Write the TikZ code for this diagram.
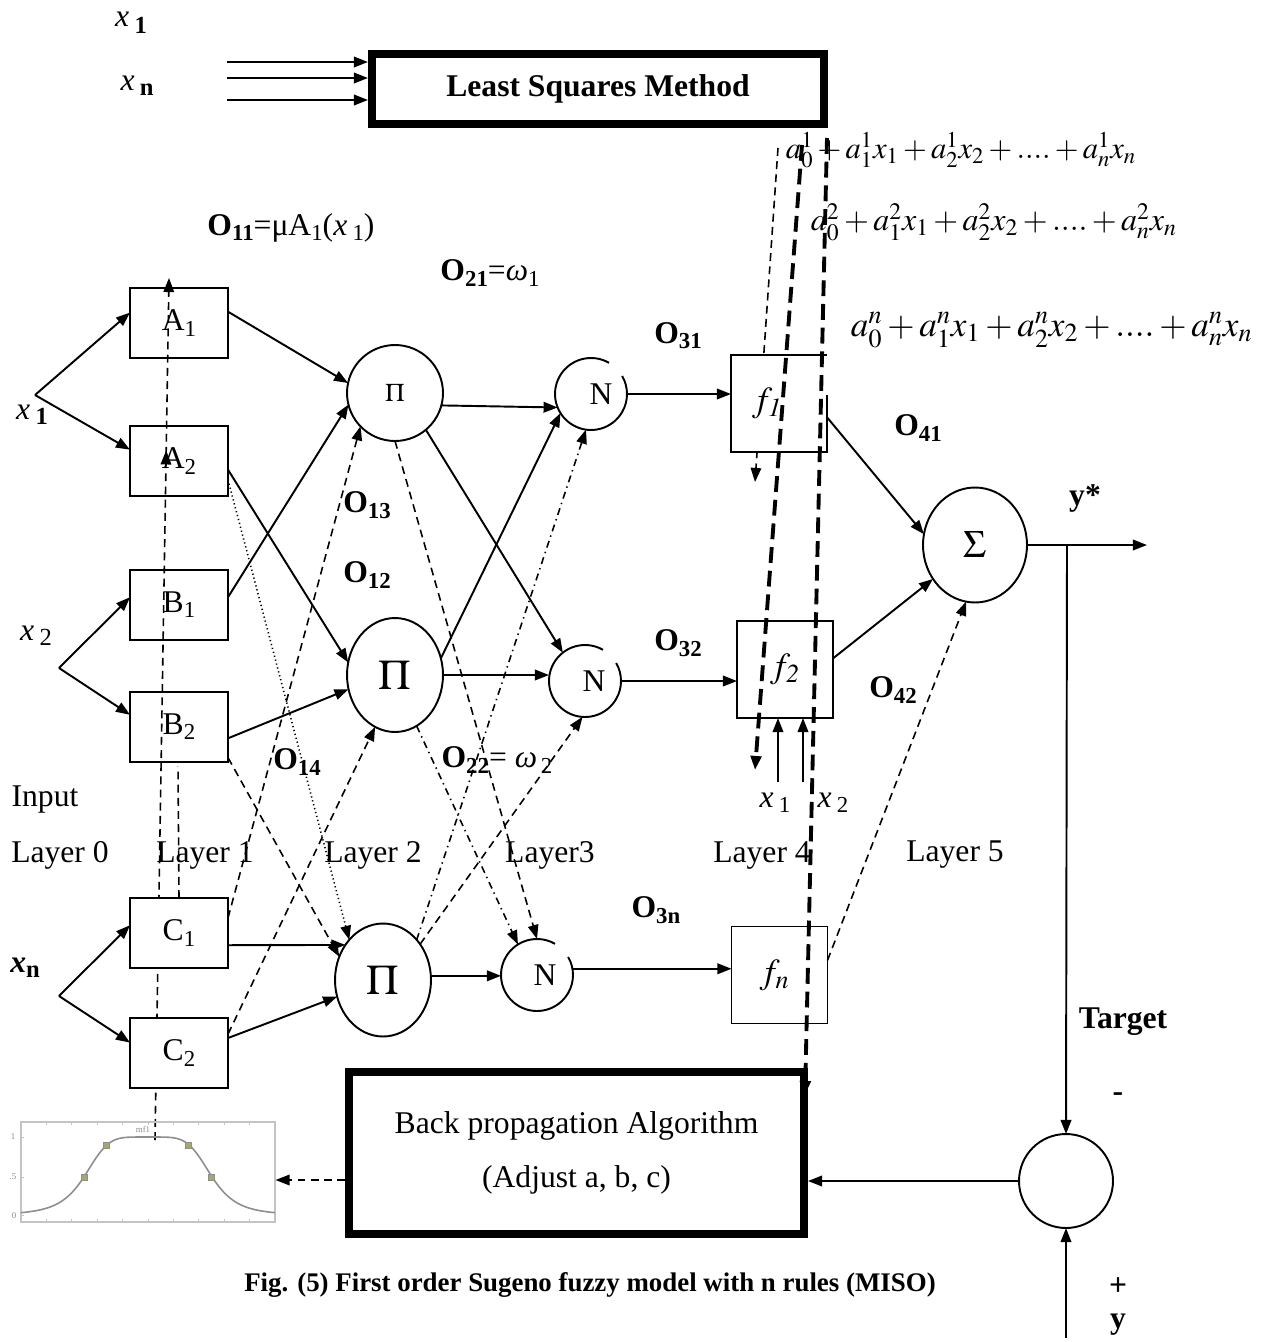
\documentclass[tikz,border=0pt]{standalone}
\usepackage{mathptmx}
\usepackage{fontspec}
\setmainfont{Liberation Serif}
\usetikzlibrary{arrows.meta, shapes.geometric, decorations.markings, backgrounds}
\definecolor{MfFrame}{HTML}{C4C4C4}
\definecolor{MfCurve}{HTML}{8E8E8E}
\definecolor{MfMark}{HTML}{A8A66A}
\definecolor{MfText}{HTML}{8A8A8A}
\newcommand{\olab}[1]{\textbf{O}\raisebox{-3pt}{\fontsize{13}{15}\selectfont\textbf{#1}}}
\newcommand{\subsc}[1]{\raisebox{-3pt}{\fontsize{13}{15}\selectfont #1}}
\tikzset{
  mfbox/.style={rectangle, draw, minimum width=1.96cm, minimum height=1.4cm, inner sep=0pt, outer sep=0pt},
  rulebox/.style={rectangle, draw, fill=white, minimum width=1.92cm, minimum height=1.94cm, inner sep=0pt, outer sep=0pt, font=\fontsize{20}{22}\selectfont},
  prodnode/.style={ellipse, draw, minimum width=1.92cm, inner sep=0pt, outer sep=0pt},
  normnode/.style={circle, minimum size=1.44cm, inner sep=0pt, outer sep=0pt},
  algobox/.style={rectangle, draw, line width=4.6pt, inner sep=0pt, align=center},
  thindash/.style={dash pattern=on 4.5pt off 3pt, line width=0.9pt},
  thickdash/.style={dash pattern=on 9pt off 4.5pt, line width=2.2pt},
  dashdot/.style={dash pattern=on 4pt off 2.5pt on 0.8pt off 2.5pt, line width=0.9pt},
  dotline/.style={dash pattern=on 0.7pt off 1.6pt, line width=0.9pt},
  midtip/.style={postaction={decorate}, decoration={markings, mark=at position #1 with {\arrow{Triangle[length=8pt,width=6pt]}}}}
}

\begin{document}
\begin{tikzpicture}[x=0.02cm, y=-0.02cm, line width=1.1pt, >={Triangle[length=8pt,width=6pt]},
  font=\fontsize{18}{21}\selectfont]
\useasboundingbox (0,0) rectangle (1273,1342);

% least squares block
\node[algobox, minimum width=9.04cm, minimum height=1.4cm, font=\fontsize{18}{21}\selectfont\bfseries] (LSM) at (598,89) {Least Squares Method};
\node (lsx1) at (131,23) {\textit{x}\,\raisebox{-4pt}{\fontsize{14}{16}\selectfont\textbf{1}}};
\node (lsxn) at (137,86) {\textit{x}\,\raisebox{-3pt}{\fontsize{14}{16}\selectfont\textbf{n}}};
\coordinate (in1) at (227,62);
\coordinate (in2) at (227,78);
\coordinate (in3) at (227,100);
\foreach \c in {in1,in2,in3}
  \draw[->] (\c) -- (\c -| LSM.west);

\node[anchor=west, inner sep=0pt, font=\fontsize{17.4}{20}\selectfont] (eq1) at (785,150)
  {$a_0^1 + a_1^1x_1 + a_2^1x_2 + .... + a_n^1x_n$};
\node[anchor=west, inner sep=0pt, font=\fontsize{18.2}{21}\selectfont] (eq2) at (810,222)
  {$a_0^2 + a_1^2x_1 + a_2^2x_2 + .... + a_n^2x_n$};
\node[anchor=west, inner sep=0pt, font=\fontsize{20}{23}\selectfont] (eq3) at (850,330)
  {$a_0^n + a_1^nx_1 + a_2^nx_2 + .... + a_n^nx_n$};

% layer 1
\node[mfbox] (A1) at (179,323) {A\subsc{1}};
\node[mfbox] (A2) at (179,461) {A\subsc{2}};
\node[mfbox] (B1) at (179,605) {B\subsc{1}};
\node[mfbox] (B2) at (179,727) {B\subsc{2}};
\node[mfbox, fill=white] (C1) at (179,933) {C\subsc{1}};
\node[mfbox, fill=white] (C2) at (179,1053) {C\subsc{2}};

\begin{scope}[on background layer]
\coordinate (mfTop) at (155,1140);
\coordinate (mfUp) at (169,278);
\draw[thindash, ->, midtip=0.8] (mfTop) -- (mfUp);
\draw[thindash] (C1.north) -- ++(-1,-132);
\coordinate (ls1) at (778,148);
\coordinate (ls1e) at (755,482);
\draw[thindash, ->] (ls1) -- (ls1e);
\end{scope}

% inputs
\node (lx1) at (32,415) {\textit{x}\,\raisebox{-3pt}{\fontsize{14}{16}\selectfont\textbf{1}}};
\node (lx2) at (36,636) {\textit{x}\,\raisebox{-3pt}{\fontsize{14}{16}\selectfont 2}};
\node (lxn) at (25,968) {\textbf{\textit{x}}\raisebox{-3pt}{\fontsize{14}{16}\selectfont\textbf{n}}};
\coordinate (x1b) at (35,395);
\coordinate (x2b) at (59,668);
\coordinate (xnb) at (59,996);
\draw[->] (x1b) -- (A1.168);
\draw[->] (x1b) -- (A2.167);
\draw[->] (x2b) -- (B1.171);
\draw[->] (x2b) -- (B2.166);
\draw[->] (xnb) -- (C1.171);
\draw[->] (xnb) -- (C2.168);

% layer 2
\node[prodnode, minimum height=1.92cm] (Pi1) at (395,393) {\fontsize{14.5}{16}\selectfont$\Pi$};
\node[prodnode, minimum height=2.28cm] (Pi2) at (395,675) {\fontsize{24}{26}\selectfont$\Pi$};
\node[prodnode, minimum height=2.26cm] (Pi3) at (383,980) {\fontsize{24}{26}\selectfont$\Pi$};

\draw[->] (A1.13) -- (Pi1.168);
\draw[->] (B1.9) -- (Pi1.194);
\draw[->] (A2.-10) -- (Pi2.165);
\draw[->] (B2.-13) -- (Pi2.197);
\draw[->] (C1.-14) -- (Pi3.137);
\draw[->] (C2.17) -- (Pi3.200);
\draw[thindash, ->] (C1.17) -- (Pi1.224);
\draw[thindash, ->] (C2.21) -- (Pi2.249);
\draw[dotline, ->] (A2.-21) -- (Pi3.130);
\draw[thindash, ->] (B2.-32) -- (Pi3.152);

% layer 3
\node[normnode] (N1) at (591,394) {\hspace*{0.4cm}N};
\node[normnode] (N2) at (585,681) {\hspace*{0.36cm}N};
\node[normnode] (N3) at (537,975) {\hspace*{0.32cm}N};
\foreach \n in {N1,N2,N3}
  \draw (\n.60) arc[start angle=60, end angle=390, radius=0.72cm];

\draw[->] (Pi1.345) -- (N1.202);
\draw[->] (Pi1.310) -- (N2.128);
\draw[->] (Pi2.20) -- (N1.212);
\draw[->] (Pi2.east) -- (Pi2.east -| N2.west);
\draw[->] (Pi3.5) -- (Pi3.5 -| N3.west);
\draw[thindash, ->] (Pi1.south) -- (N3.north);
\draw[dashdot, ->] (Pi2.293) -- (N3.122);
\draw[dashdot, ->] (Pi3.50) -- (N1.262);
\draw[thindash, ->] (Pi3.44) -- (N2.266);

% layer 4
\node[rulebox, draw=none] (f1) at (779,403.5) {\hspace*{-0.48cm}$f_{\mathit{1}}$};
\draw ([yshift=-0.8cm]f1.north east) -- (f1.south east) -- (f1.south west) -- (f1.north west) -- (f1.north east);
\node[rulebox] (f2) at (785,669.5) {$f_{\mathit{2}}$};
\node[rulebox] (fn) at (779.5,975) {\hspace*{-0.2cm}$f_{\mathit{n}}$};

\draw[->] (N1.east) -- (N1.east -| f1.west);
\draw[->] (N2.east) -- (N2.east -| f2.west);
\draw[->] (N3.10) -- (N3.10 -| fn.west);

\coordinate (fx1) at (778,782);
\coordinate (fx2) at (803,782);
\draw[->] (fx1) -- (fx1 |- f2.south);
\draw[->] (fx2) -- (fx2 |- f2.south);
\node (lfx1) at (775,803) {\textit{x}\,\subsc{1}};
\node (lfx2) at (833,803) {\textit{x}\,\subsc{2}};

% layer 5 and output
\node[prodnode, minimum width=2.08cm, minimum height=2.3cm] (Sig) at (975,545) {\fontsize{22}{24}\selectfont$\Sigma$};
\draw[->] (f1.-16) -- (Sig.168);
\draw[->] (f2.13) -- (Sig.219);
\draw[thindash, ->] (fn.17) -- (Sig.261);

\coordinate (yout) at (1147,545);
\coordinate (tap) at (1067,545);
\draw[->] (Sig.east) -- (yout);
\node[circle, draw, minimum size=1.88cm, inner sep=0pt, outer sep=0pt] (err) at (1066,1181) {};
\draw[->] (tap) -- (err.north);
\coordinate (ymeas) at (1066,1338);
\draw[->] (ymeas) -- (err.south);

% back propagation block
\node[algobox, minimum width=9.1cm, minimum height=3.24cm] (BP) at (576.5,1153)
  {Back propagation Algorithm\\[10pt](Adjust a, b, c)};
\draw[->] (err.west) -- (err.west -| BP.east);

\coordinate (ls2) at (802,145);
\coordinate (ls2e) at (755,770);
\coordinate (ls3) at (827,138);
\coordinate (bpIn) at (805,1095);
\draw[thickdash, ->] (ls2) -- (ls2e);
\draw[thickdash, ->] (ls3) -- (bpIn);

% membership function plot
\node[draw=MfFrame, line width=0.6pt, minimum width=5.08cm, minimum height=2cm, inner sep=0pt] (mfplot) at (148,1172) {};
\foreach \k in {1,...,9} {
  \draw[MfFrame, line width=0.5pt] (21+\k*25.4,1122) -- ++(0,3);
  \draw[MfFrame, line width=0.5pt] (21+\k*25.4,1222) -- ++(0,-3);
}
\foreach \ty in {1137,1177,1215}
  \draw[MfFrame, line width=0.5pt] (21,\ty) -- ++(3,0);
\node[font=\fontsize{5}{6}\selectfont, text=MfText] (t1) at (13,1137) {1};
\node[font=\fontsize{5}{6}\selectfont, text=MfText] (t5) at (13,1177) {.5};
\node[font=\fontsize{5}{6}\selectfont, text=MfText] (t0) at (14,1216) {0};
\node[font=\fontsize{5}{6}\selectfont, text=MfText] (mft) at (143,1129) {mf1};
\draw[MfCurve, line width=0.9pt, domain=21:275, samples=120, smooth]
  plot (\x, {1215 - 78/(1+pow(abs(\x-148)/63.5,5))});
\foreach \px/\py in {84/1177, 106/1145, 188/1145, 211/1177}
  \filldraw[fill=MfMark, draw=MfCurve, line width=0.4pt] (\px-3,\py-3) rectangle (\px+3,\py+3);
\draw[thindash, ->] (BP.west |- 0,1180) -- (mfplot.east |- 0,1180);

% labels
\node (o11) at (291,228) {\olab{11}=μA\subsc{1}(\textit{x}\,\subsc{1})};
\node (o21) at (490,273) {\olab{21}=\textit{ω}\subsc{1}};
\node (o13) at (367,505) {\olab{13}};
\node (o12) at (367,575) {\olab{12}};
\node (o14) at (297,762) {\olab{14}};
\node (o22) at (497,760) {\olab{22}= \textit{ω}\subsc{\,2}};
\node (o31) at (678,336) {\olab{31}};
\node (o32) at (678,643) {\olab{32}};
\node (o3n) at (656,910) {\olab{3n}};
\node (o41) at (918,428) {\olab{41}};
\node (o42) at (893,690) {\olab{42}};
\node (ystar) at (1085,498) {\textbf{y*}};
\node (target) at (1123,1022) {\textbf{Target}};
\node (minus) at (1118,1097) {\textbf{-}};
\node (plus) at (1118,1287) {\textbf{+}};
\node (ylab) at (1118,1325) {\textbf{y}};

\node (input) at (45,800) {Input};
\foreach \lx/\lt in {60/Layer 0, 205/Layer 1, 373/Layer 2, 550/Layer3, 762/Layer 4, 955/Layer 5}
  \node at (\lx,855) {\lt};

\node[font=\fontsize{15.3}{17}\selectfont\bfseries] (cap) at (590,1285)
  {Fig. (5) First order Sugeno fuzzy model with n rules (MISO)};
\end{tikzpicture}
\end{document}
